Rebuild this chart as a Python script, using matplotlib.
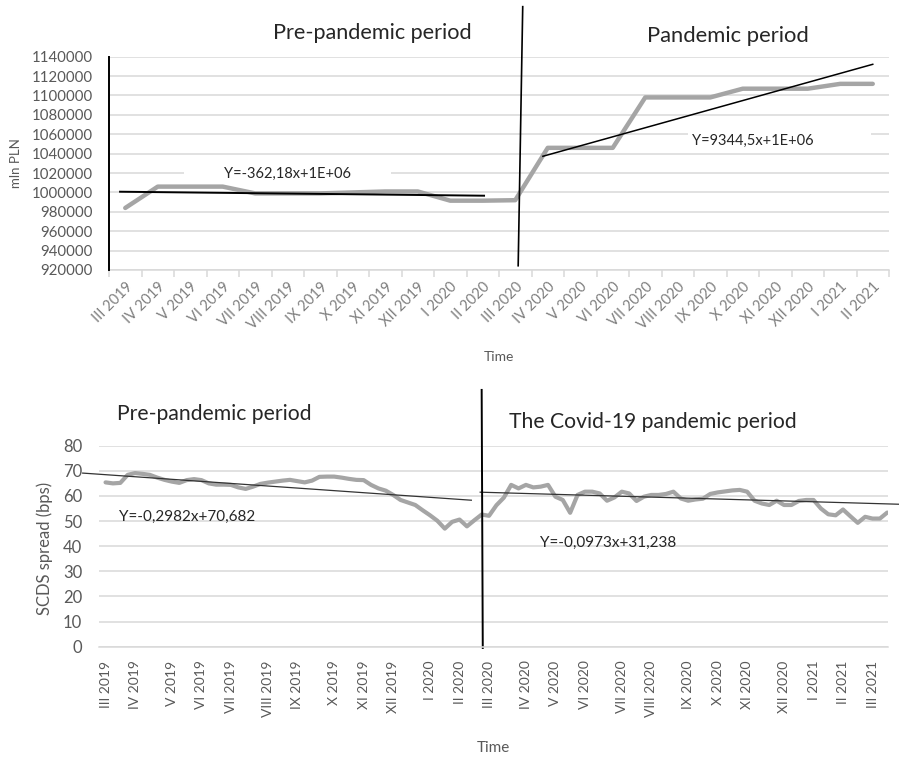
import numpy as np
import pandas as pd
import matplotlib
matplotlib.use('Agg')
import matplotlib.pyplot as plt
from matplotlib.ticker import FuncFormatter
from matplotlib.transforms import ScaledTranslation

plt.rcParams['font.family'] = ['Lato', 'DejaVu Sans']

W, H = 899, 761

# --- top panel: money supply, monthly (mln PLN)
months_top = ['III 2019', 'IV 2019', 'V 2019', 'VI 2019', 'VII 2019', 'VIII 2019',
              'IX 2019', 'X 2019', 'XI 2019', 'XII 2019', 'I 2020', 'II 2020',
              'III 2020', 'IV 2020', 'V 2020', 'VI 2020', 'VII 2020', 'VIII 2020',
              'IX 2020', 'X 2020', 'XI 2020', 'XII 2020', 'I 2021', 'II 2021']
money_mln = [984000, 1006000, 1006000, 1006000, 999000, 999000, 999000, 1000000,
             1001000, 1001000, 991500, 991500, 992000, 1046000, 1046000, 1046000,
             1098000, 1098000, 1098000, 1107000, 1107000, 1107000, 1112000, 1112000]
n_pre_top = 11          # points III 2019 .. II 2020 belong to the first fit
top_eq_pre = 'Y=-362,18x+1E+06'
top_eq_post = 'Y=9344,5x+1E+06'
split_top_x = [12.23, 12.09]
split_top_y = [1191600, 924400]

# --- bottom panel: SCDS spread, weekly (bps)
first_monday = '2019-03-04'
scds_bps = [65.4, 65.0, 65.2, 68.4, 69.1, 68.8, 68.4, 67.3, 66.4, 65.7, 65.2, 66.3, 66.7,
            66.3, 65.0, 64.5, 64.5, 64.4, 63.4, 62.8, 63.7, 64.8, 65.3, 65.7, 66.1, 66.4,
            65.9, 65.4, 66.1, 67.6, 67.7, 67.7, 67.3, 66.8, 66.4, 66.3, 64.4, 63.0, 62.1,
            60.4, 58.4, 57.4, 56.4, 54.3, 52.3, 50.1, 47.0, 49.7, 50.6, 47.9, 50.3, 52.6,
            52.1, 56.3, 59.3, 64.4, 63.0, 64.4, 63.4, 63.7, 64.4, 59.7, 58.4, 53.3, 60.4,
            61.7, 61.7, 61.0, 58.1, 59.4, 61.7, 61.0, 58.0, 59.7, 60.4, 60.4, 60.8, 61.7,
            59.0, 58.1, 58.6, 58.9, 60.8, 61.4, 61.8, 62.2, 62.4, 61.7, 58.1, 57.0, 56.4,
            58.1, 56.4, 56.4, 58.0, 58.4, 58.4, 55.0, 52.7, 52.3, 54.6, 51.9, 49.3, 51.7,
            51.0, 51.0, 53.4]
roman = ['I', 'II', 'III', 'IV', 'V', 'VI', 'VII', 'VIII', 'IX', 'X', 'XI', 'XII']
pre_trend_x = [-3.1, 49.6]
pre_trend_y = [69.1, 58.3]
covid_trend_x = [50.8, 107.6]
covid_trend_y = [61.5, 56.7]
split_bot_x = [51.0, 51.15]
split_bot_y = [102.2, -0.5]
bot_eq_pre = 'Y=-0,2982x+70,682'
bot_eq_post = 'Y=-0,0973x+31,238'

LINE = '#a5a5a5'
GRID = '#d9d9d9'
TXT = '#595959'


def box(left, top, right, bottom):
    return [left / W, 1 - bottom / H, (right - left) / W, (bottom - top) / H]


def ftext(px, py, s, **kw):
    fig.text(px / W, 1 - py / H, s, **kw)


fig = plt.figure(figsize=(W / 100, H / 100), dpi=100)

# ================= top chart
ax = fig.add_axes(box(109, 56.7, 889, 270))
x = np.arange(len(months_top))
ax.set_xlim(-0.5, len(months_top) - 0.5)
ax.set_ylim(920000, 1140000)
ax.set_yticks(np.arange(920000, 1140001, 20000))
ax.yaxis.set_major_formatter(FuncFormatter(lambda v, p: f'{v:.0f}'))
ax.yaxis.grid(True, color=GRID, lw=1.1)
ax.set_axisbelow(True)
for s in ['top', 'right']:
    ax.spines[s].set_visible(False)
ax.spines['left'].set_color('black')
ax.spines['left'].set_linewidth(1.4)
ax.spines['left'].set_zorder(3)
ax.spines['bottom'].set_color(GRID)
ax.spines['bottom'].set_linewidth(1.1)
ax.tick_params(axis='y', length=0, labelsize=10.8, labelcolor=TXT, pad=11.5)
ax.set_xticks(x)
ax.set_xticklabels(months_top, rotation=45, ha='right', va='top',
                   rotation_mode='anchor', color='#7f7f7f', fontsize=10.5)
shift = ScaledTranslation(6 / 72, 0, fig.dpi_scale_trans)
for lab in ax.get_xticklabels():
    lab.set_transform(lab.get_transform() + shift)
ax.set_xticks(np.arange(-0.5, len(months_top)), minor=True)
ax.tick_params(axis='x', which='major', length=0, pad=7)
ax.tick_params(axis='x', which='minor', length=5, color=GRID, width=1.1)

ax.plot(x, money_mln, color=LINE, lw=3.2, solid_joinstyle='round',
        solid_capstyle='round', zorder=2)

# linear trends for both periods
pre_idx = np.arange(0, n_pre_top + 1)
post_idx = np.arange(n_pre_top + 1, len(months_top))
c1 = np.polyfit(pre_idx, np.array(money_mln)[pre_idx], 1)
c2 = np.polyfit(post_idx, np.array(money_mln)[post_idx], 1)
t1 = np.array([-0.16, 11.04])
t2 = np.array([12.85, 23.0])
ax.plot(t1, np.polyval(c1, t1), color='black', lw=1.4, zorder=3)
ax.plot(t2, np.polyval(c2, t2), color='black', lw=1.1, zorder=3)
ax.plot(split_top_x, split_top_y, color='black', lw=1.2, clip_on=False, zorder=3)

ax.text(5.0, 1019000, '        ' + top_eq_pre + '        ', ha='center', va='center',
        fontsize=10.5, color='#262626', zorder=1,
        bbox=dict(facecolor='white', edgecolor='none', pad=7))
ax.text(17.45, 1053500, top_eq_post + '              ', ha='left', va='center',
        fontsize=10.5, color='#262626', zorder=1,
        bbox=dict(facecolor='white', edgecolor='none', pad=3))

ax.set_ylabel('mln PLN', fontsize=9.5, color=TXT)
ax.yaxis.set_label_coords(-0.112, 0.5)
ftext(499, 357, 'Time', ha='center', va='center', fontsize=10, color=TXT)
ftext(372, 33, 'Pre-pandemic period', ha='center', va='center', fontsize=15.6, color='#262626')
ftext(728, 36, 'Pandemic period', ha='center', va='center', fontsize=15.8, color='#262626')

# ================= bottom chart
bx = fig.add_axes(box(99, 445.7, 888, 646.7))
wk = np.arange(len(scds_bps))
dates = pd.date_range(first_monday, periods=len(scds_bps), freq='W-MON')
lab_pos, lab_txt = [], []
for i, d in enumerate(dates):
    if i == 0 or d.month != dates[i - 1].month:
        lab_pos.append(i)
        lab_txt.append(f'{roman[d.month - 1]} {d.year}')

bx.set_xlim(-0.89, 106.1)
bx.set_ylim(0, 80)
bx.set_yticks(np.arange(0, 81, 10))
bx.yaxis.grid(True, color=GRID, lw=1.1)
bx.set_axisbelow(True)
for s in ['top', 'right', 'left']:
    bx.spines[s].set_visible(False)
bx.spines['bottom'].set_color(GRID)
bx.spines['bottom'].set_linewidth(1.1)
bx.tick_params(axis='y', length=0, labelsize=12, labelcolor=TXT, pad=12)
bx.set_xticks(lab_pos)
bx.set_xticklabels(lab_txt, rotation=90, ha='center', va='top', color=TXT, fontsize=10)
bx.tick_params(axis='x', length=0, pad=10)

bx.plot(wk, scds_bps, color=LINE, lw=3.0, solid_joinstyle='round', solid_capstyle='round')
bx.plot(pre_trend_x, pre_trend_y, color='#333333', lw=0.9, clip_on=False)
bx.plot(covid_trend_x, covid_trend_y, color='#333333', lw=0.9, clip_on=False)
bx.plot(split_bot_x, split_bot_y, color='black', lw=1.4, clip_on=False)

ftext(119, 517, bot_eq_pre, ha='left', va='center', fontsize=11, color='#262626')
ftext(540, 543, bot_eq_post, ha='left', va='center', fontsize=11, color='#262626')
ftext(117, 414, 'Pre-pandemic period', ha='left', va='center', fontsize=15.2, color='#262626')
ftext(509, 422, 'The Covid-19 pandemic period', ha='left', va='center', fontsize=15.2,
      color='#262626')
ftext(45, 548, 'SCDS spread (bps)', ha='center', va='center', rotation=90,
      fontsize=12, color=TXT)
ftext(493, 748, 'Time', ha='center', va='center', fontsize=11, color=TXT)

fig.savefig('out.png', dpi=100)
